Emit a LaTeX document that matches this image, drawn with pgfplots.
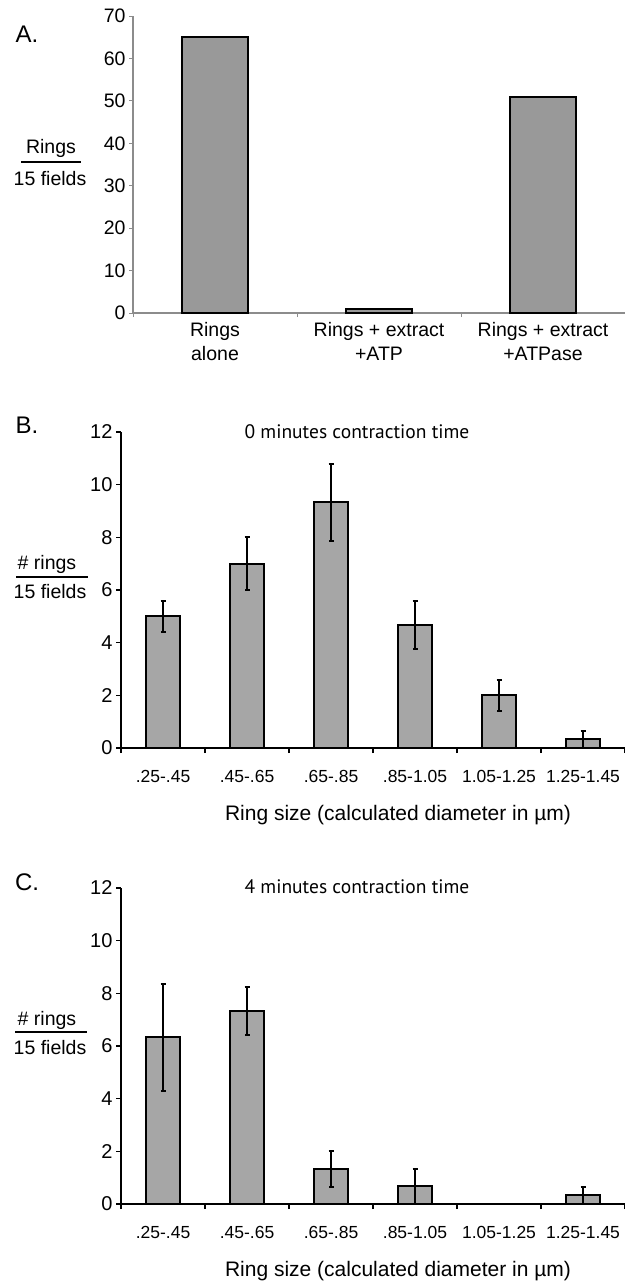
\documentclass[border=0pt]{standalone}
\usepackage{fontspec}
\setmainfont{Liberation Sans}
\newfontfamily\ptsans{PT Sans}
\usepackage{pgfplots}
\pgfplotsset{compat=1.18}
\definecolor{barA}{HTML}{999999}
\definecolor{barB}{HTML}{A6A6A6}
\definecolor{axisA}{HTML}{8C8C8C}

\pgfplotsset{
  panelBC/.style={
    scale only axis, anchor=south west, width=504bp, height=316bp,
    xmin=-0.5, xmax=5.5, ymin=0, ymax=12, ytick={0,2,...,12},
    axis x line*=bottom, axis y line*=left,
    axis line style={line width=2bp, black},
    tick align=outside, major tick length=5bp,
    tick style={line width=1.5bp, black},
    xtick={-0.5,0.5,...,5.5}, xticklabels={},
    extra x ticks={0,1,2,3,4,5},
    extra x tick labels={.25-.45,.45-.65,.65-.85,.85-1.05,1.05-1.25,1.25-1.45},
    extra x tick style={major tick length=0pt, tick label style={font=\fontsize{17.5bp}{20bp}\selectfont, yshift=-19bp}},
    yticklabel style={font=\fontsize{20bp}{22bp}\selectfont},
    /pgf/number format/assume math mode=true,
    ybar, bar width=34bp,
    clip=false,
  },
  barBC/.style={fill=barB, draw=black, line width=2bp,
    error bars/.cd, y dir=both, y explicit,
    error bar style={line width=2bp, black},
    error mark options={rotate=90, line width=2bp, mark size=2.5bp, black}},
}

\begin{document}
\begin{tikzpicture}
\path[use as bounding box] (0,0) rectangle (625bp,-1287bp);

% ---------------- Panel A ----------------
\begin{axis}[
  scale only axis, anchor=south west, at={(133bp,-313bp)},
  width=492bp, height=297bp,
  xmin=-0.5, xmax=2.5, ymin=0, ymax=70, ytick={0,10,...,70},
  axis x line*=bottom, axis y line*=left,
  axis line style={line width=1.2bp, axisA},
  tick align=outside, major tick length=4bp,
  tick style={line width=1bp, axisA},
  xtick={-0.5,0.5,1.5,2.5}, xticklabels={},
  extra x ticks={0,1,2},
  extra x tick labels={{Rings\\alone},{Rings + extract\\+ATP},{Rings + extract\\+ATPase}},
  extra x tick style={major tick length=0pt, tick label style={font=\fontsize{19.5bp}{24bp}\selectfont, align=center, yshift=-6bp}},
  yticklabel style={font=\fontsize{19.5bp}{22bp}\selectfont},
  /pgf/number format/assume math mode=true,
  ybar, bar width=66bp, clip=false,
]
\addplot[fill=barA, draw=black, line width=1.8bp] coordinates {(0,65) (1,1) (2,51)};
\end{axis}

\node[font=\fontsize{24bp}{26bp}\selectfont, anchor=base] at (27bp,-42bp) {A.};
\node[font=\fontsize{19.5bp}{22bp}\selectfont, anchor=base] at (51bp,-153bp) {Rings};
\draw[line width=2bp] (21bp,-162bp) -- (81bp,-162bp);
\node[font=\fontsize{19.5bp}{22bp}\selectfont, anchor=base] at (50bp,-185bp) {15 fields};

% ---------------- Panel B ----------------
\begin{axis}[panelBC, at={(121bp,-748bp)}]
\addplot[barBC] coordinates {
  (0,5) +- (0,0.6)
  (1,7) +- (0,1)
  (2,9.33) +- (0,1.45)
  (3,4.67) +- (0,0.9)
  (4,2) +- (0,0.6)
  (5,0.33) +- (0,0.33)
};
\end{axis}

\node[font=\fontsize{24bp}{26bp}\selectfont, anchor=base] at (27bp,-433bp) {B.};
\node[font=\ptsans\fontsize{19.5bp}{22bp}\selectfont, anchor=base] at (357bp,-438bp) {0 minutes contraction time};
\node[font=\fontsize{19.5bp}{22bp}\selectfont, anchor=base] at (47bp,-569bp) {\# rings};
\draw[line width=2bp] (16bp,-577bp) -- (88bp,-577bp);
\node[font=\fontsize{19.5bp}{22bp}\selectfont, anchor=base] at (50bp,-598bp) {15 fields};
\node[font=\fontsize{21bp}{24bp}\selectfont, anchor=base] at (398bp,-820bp) {Ring size (calculated diameter in µm)};

% ---------------- Panel C ----------------
\begin{axis}[panelBC, at={(121bp,-1204bp)}]
\addplot[barBC] coordinates {
  (0,6.33) +- (0,2.03)
  (1,7.33) +- (0,0.9)
  (2,1.33) +- (0,0.67)
  (3,0.67) +- (0,0.67)
  (5,0.33) +- (0,0.33)
};
\end{axis}

\node[font=\fontsize{24bp}{26bp}\selectfont, anchor=base] at (27bp,-890bp) {C.};
\node[font=\ptsans\fontsize{19.5bp}{22bp}\selectfont, anchor=base] at (357bp,-893bp) {4 minutes contraction time};
\node[font=\fontsize{19.5bp}{22bp}\selectfont, anchor=base] at (47bp,-1025bp) {\# rings};
\draw[line width=2bp] (15bp,-1032bp) -- (87bp,-1032bp);
\node[font=\fontsize{19.5bp}{22bp}\selectfont, anchor=base] at (50bp,-1054bp) {15 fields};
\node[font=\fontsize{21bp}{24bp}\selectfont, anchor=base] at (398bp,-1276bp) {Ring size (calculated diameter in µm)};
\end{tikzpicture}
\end{document}
